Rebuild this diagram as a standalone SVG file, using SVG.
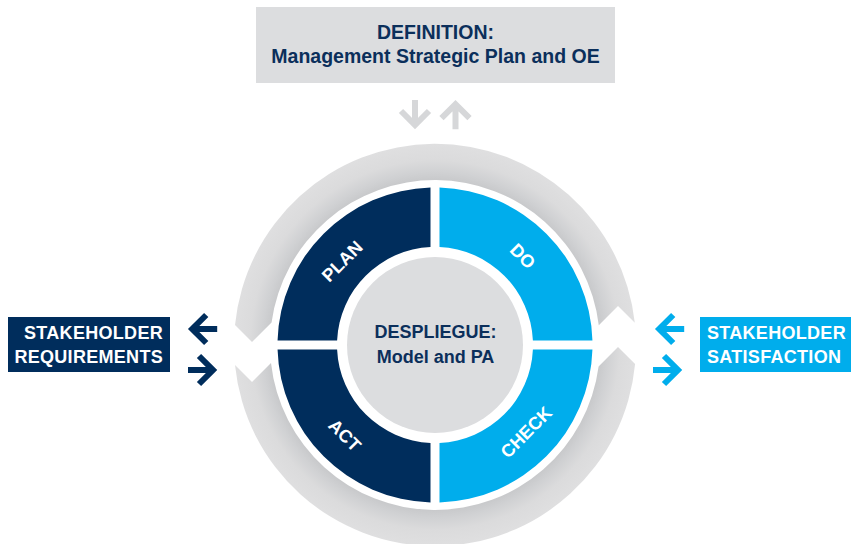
<svg xmlns="http://www.w3.org/2000/svg" width="851" height="544" viewBox="0 0 851 544">
<defs>
<style>
.t{font-family:"Liberation Sans",Arial,sans-serif;font-weight:bold}
.navy{fill:#002d5c}
.sky{fill:#00adec}
.wt{fill:#ffffff;font-size:18px}
.dt{fill:#0b2f5b}
.arr{fill:none;stroke-width:6;stroke-linejoin:miter;stroke-linecap:butt;stroke-miterlimit:10}
</style>
<radialGradient id="ringG" gradientUnits="userSpaceOnUse" cx="435" cy="345" r="201">
<stop offset="0.82" stop-color="#c8c9cb"/>
<stop offset="0.86" stop-color="#d0d1d3"/>
<stop offset="0.92" stop-color="#dbdbdc"/>
<stop offset="1" stop-color="#dfdfe0"/>
</radialGradient>
<path id="arrowR" d="M-14,0 H9 M-3,-14 L11,0 L-3,14"/>
</defs>
<rect width="851" height="544" fill="#ffffff"/>

<g id="outer-ring" fill="url(#ringG)">
<path d="M235,325 A201,201 0 0 1 634.8,322.8 L618,306 L598.8,325.2 A165,165 0 0 0 271.55,322.45 L252,342 Z"/>
<path d="M618,347 L635.1,364.1 A201,201 0 0 1 235,365 L252,382 L271,363 A165,165 0 0 0 598.6,366.4 Z"/>
</g>

<g id="definition">
<rect x="256" y="7" width="359" height="76" fill="#dcdddf"/>
<text class="t dt" x="435.5" y="39" text-anchor="middle" font-size="19.5">DEFINITION:</text>
<text class="t dt" x="435.5" y="63" text-anchor="middle" font-size="19.5">Management Strategic Plan and OE</text>
</g>

<g id="plan">
<path class="navy" d="M430.5,187.56 A157.5,157.5 0 0 0 277.56,340.5 L337.1,340.5 A98,98 0 0 1 430.5,247.1 Z"/>
<text class="t wt" transform="translate(342,261) rotate(-45)" x="0" y="6.5" text-anchor="middle" font-size="17">PLAN</text>
</g>
<g id="do">
<path class="sky" d="M439.5,187.56 L439.5,247.1 A98,98 0 0 1 532.9,340.5 L592.44,340.5 A157.5,157.5 0 0 0 439.5,187.56 Z"/>
<text class="t wt" transform="translate(523,256) rotate(45)" x="0" y="6.5" text-anchor="middle" font-size="17">DO</text>
</g>
<g id="check">
<path class="sky" d="M592.44,349.5 A157.5,157.5 0 0 1 439.5,502.44 L439.5,442.9 A98,98 0 0 0 532.9,349.5 Z"/>
<text class="t wt" transform="translate(526,432) rotate(-45)" x="0" y="6.5" text-anchor="middle" font-size="17">CHECK</text>
</g>
<g id="act">
<path class="navy" d="M430.5,502.44 A157.5,157.5 0 0 1 277.56,349.5 L337.1,349.5 A98,98 0 0 0 430.5,442.9 Z"/>
<text class="t wt" transform="translate(345,435) rotate(45)" x="0" y="6.5" text-anchor="middle" font-size="17">ACT</text>
</g>
<g id="despliegue">
<circle cx="435" cy="345" r="88" fill="#dcdddf"/>
<text class="t dt" x="435.5" y="338" text-anchor="middle" font-size="18">DESPLIEGUE:</text>
<text class="t dt" x="435.5" y="362.5" text-anchor="middle" font-size="18">Model and PA</text>
</g>

<g id="stakeholder-requirements">
<rect class="navy" x="8" y="317" width="162" height="55"/>
<text class="t wt" x="163" y="339" text-anchor="end" letter-spacing="0.3">STAKEHOLDER</text>
<text class="t wt" x="163" y="363" text-anchor="end" letter-spacing="0.3">REQUIREMENTS</text>
</g>
<g id="stakeholder-satisfaction">
<rect class="sky" x="700" y="317" width="151" height="55"/>
<text class="t wt" x="707" y="339" letter-spacing="0.3">STAKEHOLDER</text>
<text class="t wt" x="707" y="363" letter-spacing="0.3">SATISFACTION</text>
</g>

<g id="connectors">
<use href="#arrowR" class="arr" stroke="#d6d7d9" transform="translate(415,114) rotate(90)"/>
<use href="#arrowR" class="arr" stroke="#d6d7d9" transform="translate(455.5,115.2) rotate(-90)"/>
<use href="#arrowR" class="arr" stroke="#002d5c" transform="translate(203.2,329) rotate(180)"/>
<use href="#arrowR" class="arr" stroke="#002d5c" transform="translate(202,370)"/>
<use href="#arrowR" class="arr" stroke="#00adec" transform="translate(670.2,329) rotate(180)"/>
<use href="#arrowR" class="arr" stroke="#00adec" transform="translate(667,370)"/>
</g>
</svg>
